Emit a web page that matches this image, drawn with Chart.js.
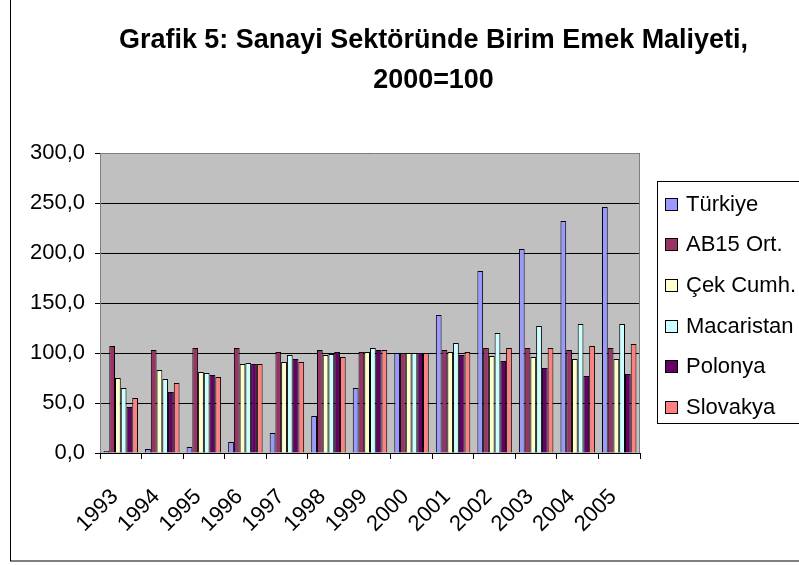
<!DOCTYPE html>
<html lang="tr">
<head>
<meta charset="UTF-8">
<title>Grafik 5</title>
<script src="https://cdn.jsdelivr.net/npm/chart.js"></script>
<style>
    html, body { margin: 0; padding: 0; background: #fff; }
    canvas { display: block; }
</style>
</head>
<body>
<canvas id="chart" width="799" height="565"></canvas>
<script>
const years = ['1993','1994','1995','1996','1997','1998','1999','2000','2001','2002','2003','2004','2005'];
const seriesNames = ['Türkiye', 'AB15 Ort.', 'Çek Cumh.', 'Macaristan', 'Polonya', 'Slovakya'];
const turkiye    = [2, 4, 6, 11, 20, 37, 65, 100, 138, 182, 204, 232, 246];
const ab15       = [107, 103, 105, 105, 101, 103, 101, 100, 103, 105, 105, 103, 105];
const cek        = [75, 83, 81, 89, 91, 98, 101, 100, 101, 97, 96, 94, 94];
const macaristan = [65, 74, 80, 90, 98, 99, 105, 100, 110, 120, 127, 129, 129];
const polonya    = [46, 61, 78, 89, 94, 101, 103, 100, 98, 92, 85, 77, 79];
const slovakya   = [55, 70, 76, 89, 91, 96, 103, 100, 101, 105, 105, 107, 109];
const yTicks = [0, 50, 100, 150, 200, 250, 300];
const colors = ['#9999FF', '#993366', '#FFFFCC', '#CCFFFF', '#660066', '#FF8080'];
const titleLines = ['Grafik 5: Sanayi Sektöründe Birim Emek Maliyeti,', '2000=100'];

const FONT = '"Liberation Sans", Arial, sans-serif';
const values = [turkiye, ab15, cek, macaristan, polonya, slovakya];

const decor = {
    id: 'decor',
    beforeDraw(chart) {
        const { ctx, chartArea: a } = chart;
        ctx.save();
        ctx.fillStyle = '#fff';
        ctx.fillRect(0, 0, chart.width, chart.height);
        ctx.fillStyle = '#C0C0C0';
        ctx.fillRect(a.left, a.top, a.right - a.left, a.bottom - a.top);
        ctx.restore();
    },
    afterDraw(chart) {
        const { ctx, chartArea: a } = chart;
        ctx.save();
        // outer frame
        ctx.strokeStyle = '#000';
        ctx.lineWidth = 1;
        ctx.strokeRect(10.5, -10, 900, 571);
        // plot border
        ctx.strokeStyle = '#808080';
        ctx.beginPath();
        ctx.moveTo(a.left, a.top + 0.5);
        ctx.lineTo(a.right - 0.5, a.top + 0.5);
        ctx.lineTo(a.right - 0.5, a.bottom);
        ctx.stroke();
        ctx.beginPath();
        ctx.moveTo(a.left + 0.5, a.top);
        ctx.lineTo(a.left + 0.5, a.bottom);
        ctx.stroke();

        // title, condensed bold
        ctx.fillStyle = '#000';
        ctx.font = 'bold 27px ' + FONT;
        ctx.textBaseline = 'alphabetic';
        ctx.textAlign = 'center';
        const w1 = ctx.measureText(titleLines[0]).width;
        const sx = 629 / w1;
        const cx = 433.5;
        [48, 88].forEach((y, i) => {
            ctx.save();
            ctx.translate(cx, y);
            ctx.scale(sx, 1);
            ctx.fillText(titleLines[i], 0, 0);
            ctx.restore();
        });

        // legend
        ctx.strokeStyle = '#000';
        ctx.fillStyle = '#fff';
        ctx.fillRect(657, 181, 200, 242);
        ctx.strokeRect(657.5, 181.5, 200, 242);
        ctx.font = '22px ' + FONT;
        ctx.textAlign = 'left';
        ctx.textBaseline = 'middle';
        chart.data.datasets.forEach((ds, i) => {
            const y = 203.5 + i * 40.7;
            ctx.fillStyle = ds.backgroundColor;
            ctx.fillRect(665, Math.round(y - 6), 12, 12);
            ctx.strokeRect(665.5, Math.round(y - 6) + 0.5, 12, 12);
            ctx.fillStyle = '#000';
            ctx.fillText(ds.label, 686, y + 1);
        });
        ctx.restore();
    }
};

new Chart(document.getElementById('chart'), {
    type: 'bar',
    data: {
        labels: years,
        datasets: seriesNames.map((name, i) => ({
            label: name,
            data: values[i],
            backgroundColor: colors[i],
            borderColor: '#000',
            borderWidth: 1,
            categoryPercentage: 0.83,
            barPercentage: 1
        }))
    },
    options: {
        responsive: false,
        animation: false,
        layout: { padding: { left: 0, right: 159, top: 153, bottom: 0 } },
        plugins: {
            legend: { display: false },
            title: { display: false },
            tooltip: { enabled: false }
        },
        scales: {
            y: {
                min: 0,
                max: 300,
                afterBuildTicks: s => { s.ticks = yTicks.map(v => ({ value: v })); },
                afterFit: s => { s.width = 100; },
                ticks: {
                    color: '#000',
                    font: { family: FONT, size: 22 },
                    padding: 10,
                    callback: v => v.toFixed(1).replace('.', ',')
                },
                grid: { color: '#000', lineWidth: 1, tickLength: 5 },
                border: { display: false }
            },
            x: {
                afterFit: s => { s.height = 112; },
                ticks: {
                    color: '#000',
                    font: { family: FONT, size: 22 },
                    minRotation: 45,
                    maxRotation: 45,
                    autoSkip: false,
                    padding: 25,
                    labelOffset: -6
                },
                grid: { offset: true, drawOnChartArea: false, color: '#000', tickLength: 6 },
                border: { display: true, color: '#000' }
            }
        }
    },
    plugins: [decor]
});
</script>
</body>
</html>
